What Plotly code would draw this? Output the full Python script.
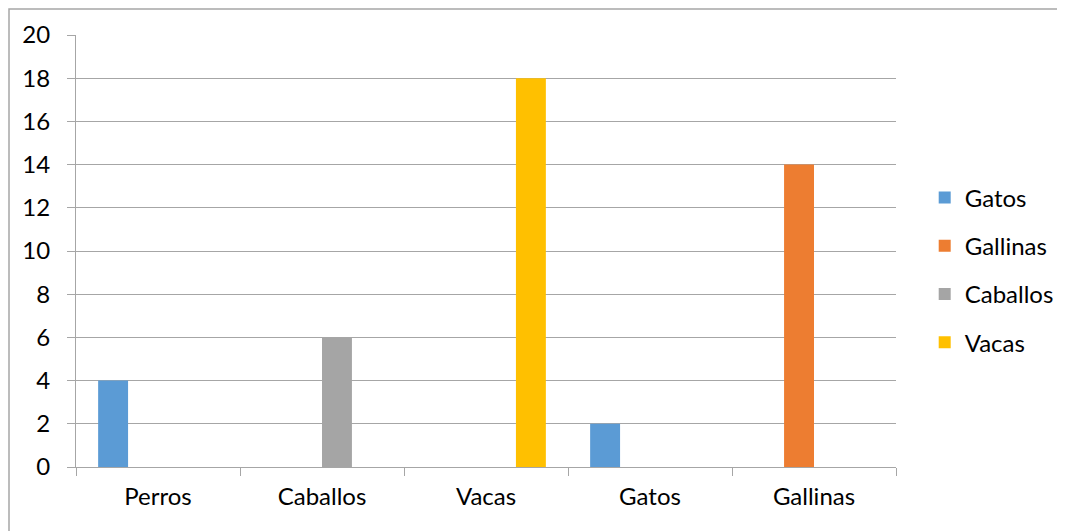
import plotly.graph_objects as go

categories = ["Perros", "Caballos", "Vacas", "Gatos", "Gallinas"]
series_names = ["Gatos", "Gallinas", "Caballos", "Vacas"]
gatos = [4, None, None, 2, None]
gallinas = [None, None, None, None, 14]
caballos = [None, 6, None, None, None]
vacas = [None, None, 18, None, None]
y_ticks = list(range(0, 21, 2))

colors = ["#5B9BD5", "#ED7D31", "#A5A5A5", "#FFC000"]
values = [gatos, gallinas, caballos, vacas]

fig = go.Figure()
for name, vals, col in zip(series_names, values, colors):
    fig.add_trace(go.Bar(x=categories, y=vals, name=name, marker_color=col,
                         marker_line_width=0, legendgroup=name))

grid = "#a6a6a6"
font = dict(family="Lato, Open Sans, sans-serif", size=24, color="#000000")

fig.update_layout(
    width=1065, height=531,
    margin=dict(l=68, r=177, t=27, b=72),
    paper_bgcolor="white", plot_bgcolor="white",
    barmode="group", bargap=0.27, bargroupgap=0,
    font=font,
    showlegend=True,
    legend=dict(x=1.035, xanchor="left", y=0.456, yanchor="middle",
                traceorder="grouped", tracegroupgap=14,
                font=font, bgcolor="rgba(0,0,0,0)", itemwidth=30),
    xaxis=dict(showgrid=False, showline=True, linecolor=grid, linewidth=1,
               ticks="outside", tickson="boundaries", ticklen=8, tickcolor=grid,
               tickfont=font, zeroline=False, ticklabelstandoff=8),
    yaxis=dict(range=[0, 20], tickvals=y_ticks, showgrid=True, gridcolor=grid,
               gridwidth=1, showline=True, linecolor=grid, linewidth=1,
               ticks="outside", ticklen=8, tickcolor=grid, tickfont=font,
               zeroline=False, ticklabelstandoff=12),
)

fig.add_shape(type="rect", xref="paper", yref="paper",
              x0=(1 - 68) / 820, x1=1.3, y0=-0.3, y1=(459 - 1) / 432,
              line=dict(color="#a6a6a6", width=1.5), fillcolor="rgba(0,0,0,0)",
              layer="below")

fig.write_html("out.html")
